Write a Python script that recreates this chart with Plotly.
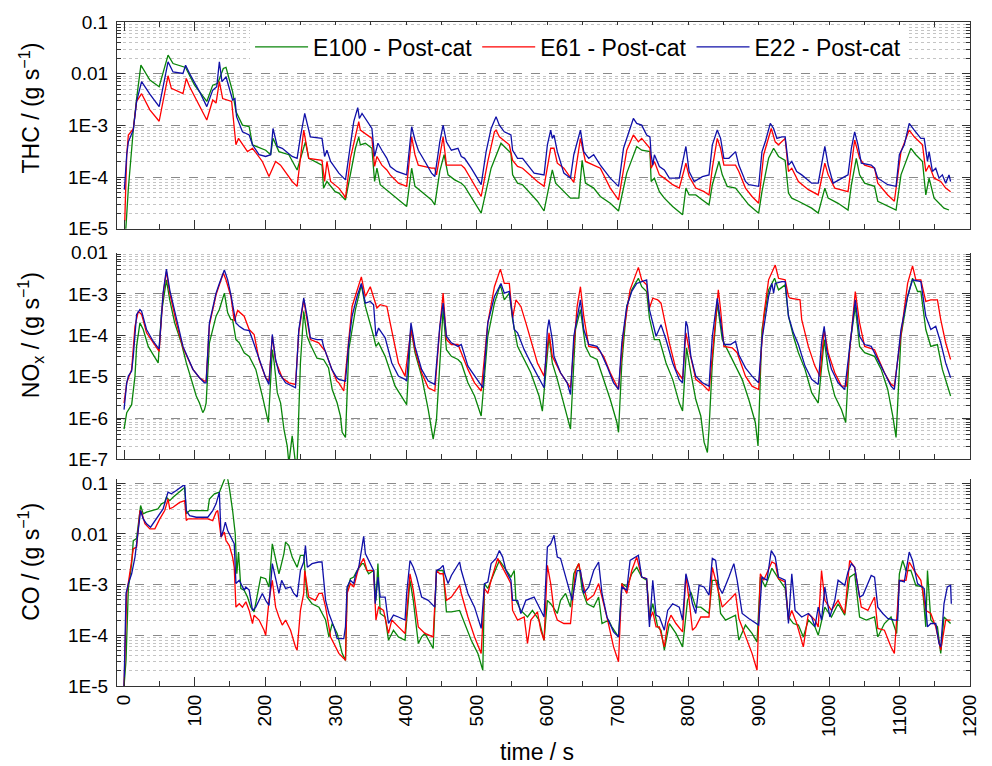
import plotly.graph_objects as go

SERIES = ["E100 - Post-cat", "E61 - Post-cat", "E22 - Post-cat"]
COLORS = ["#0a850a", "#ff0000", "#1010a8"]

# ---------------- THC (g/s) : (time s, value) ----------------
THC_E100 = [(2.3,8.9e-6),(6.1,6.0e-5),(13.1,8.1e-4),(17.8,3.3e-3),(23.9,1.46e-2),(36.6,7.5e-3),(49.8,5.6e-3),(62.4,2.28e-2),(69.5,1.57e-2),(83.6,1.36e-2),(87.3,1.32e-2),(100.0,6.0e-3),(117.4,2.9e-3),(125.8,6.0e-3),(132.9,6.5e-3),(140.8,1.26e-2),(144.6,1.32e-2),(154.0,4.5e-3),(158.7,1.85e-3),(168.0,1.01e-3),(177.5,9.4e-4),(182.2,4.2e-4),(200.9,3.3e-4),(208.0,2.7e-4),(211.3,5.6e-4),(219.7,3.1e-4),(233.8,2.7e-4),(245.5,1.37e-4),(257.3,4.8e-4),(262.0,2.3e-4),(280.8,1.7e-4),(283.0,6.1e-5),(287.8,8.2e-5),(299.5,5.2e-5),(304.7,4.9e-5),(314.1,3.6e-5),(321.1,1.1e-4),(328.2,3.6e-4),(332.9,6.0e-4),(335.2,4.2e-4),(342.3,4.5e-4),(351.6,3.6e-4),(355.4,8.2e-5),(358.7,1.48e-4),(363.4,7.1e-5),(375.1,5.2e-5),(389.2,3.6e-5),(400.9,2.7e-5),(408.0,1.48e-4),(412.7,6.6e-5),(422.1,5.2e-5),(436.2,3.6e-5),(440.8,2.9e-5),(447.9,1.3e-4),(454.0,2.7e-4),(459.6,1.1e-4),(469.0,8.8e-5),(478.4,7.6e-5),(483.1,6.6e-5),(506.6,2.0e-5),(520.7,1.48e-4),(534.7,4.5e-4),(541.8,3.6e-4),(548.8,2.9e-4),(551.2,1.1e-4),(558.2,7.6e-5),(565.3,7.1e-5),(586.4,3.4e-5),(595.8,2.2e-5),(607.5,1.37e-4),(612.2,7.6e-5),(623.9,5.2e-5),(633.3,3.9e-5),(645.1,3.9e-5),(649.8,2.1e-4),(654.5,7.6e-5),(666.2,6.1e-5),(675.6,4.2e-5),(689.7,3.1e-5),(701.4,2.2e-5),(713.1,1.19e-4),(727.2,3.9e-4),(734.3,3.3e-4),(746.0,3.1e-4),(747.7,8.2e-5),(752.3,9.5e-5),(759.4,5.2e-5),(766.4,3.9e-5),(778.2,2.7e-5),(792.3,1.86e-5),(797.0,6.1e-5),(801.6,4.5e-5),(811.0,4.5e-5),(820.4,3.6e-5),(829.8,2.9e-5),(834.5,7.1e-5),(843.9,2.0e-4),(848.6,1.1e-4),(855.6,6.6e-5),(867.4,6.1e-5),(876.8,4.2e-5),(886.2,2.9e-5),(900.2,2.0e-5),(904.9,5.2e-5),(914.3,2.3e-4),(921.4,3.6e-4),(928.4,2.5e-4),(937.8,2.1e-4),(942.5,4.9e-5),(947.2,3.9e-5),(956.6,3.4e-5),(966.0,2.9e-5),(975.4,2.5e-5),(984.7,2.0e-5),(994.1,6.1e-5),(998.8,3.9e-5),(1012.9,3.1e-5),(1027.0,2.3e-5),(1031.7,7.0e-5),(1038.7,2.3e-4),(1043.4,1.1e-4),(1050.5,7.6e-5),(1064.6,6.6e-5),(1069.2,3.4e-5),(1083.3,2.7e-5),(1095.1,2.3e-5),(1102.1,1.1e-4),(1116.2,3.6e-4),(1123.2,2.7e-4),(1132.6,2.0e-4),(1137.3,4.5e-5),(1142.0,9.5e-5),(1149.1,3.9e-5),(1156.1,3.1e-5),(1163.1,2.5e-5),(1170.2,2.3e-5)]

THC_E61 = [(1.0,1.4e-5),(3.8,2.7e-4),(6.1,6.5e-4),(13.1,8.5e-4),(17.8,2.9e-3),(24.9,4.1e-3),(36.6,2.0e-3),(49.8,1.2e-3),(62.4,9.1e-3),(67.1,5.2e-3),(83.6,4.1e-3),(88.3,8.1e-3),(93.0,5.6e-3),(107.0,2.3e-3),(117.4,1.27e-3),(125.8,3.1e-3),(130.5,2.7e-3),(135.2,7.0e-3),(139.9,3.3e-3),(152.6,2.9e-3),(158.7,4.2e-4),(162.4,5.6e-4),(175.1,3.1e-4),(182.2,3.6e-4),(196.2,2.0e-4),(205.6,1.02e-4),(211.3,1.6e-4),(215.0,2.0e-4),(222.0,1.7e-4),(238.5,8.2e-5),(245.5,6.6e-5),(254.9,8.1e-4),(262.0,2.3e-4),(280.8,2.1e-4),(284.5,8.2e-5),(287.8,2.0e-4),(293.0,8.2e-5),(304.7,6.1e-5),(311.7,4.5e-5),(314.1,3.9e-5),(321.1,2.3e-4),(328.2,6.5e-4),(332.9,1.18e-3),(335.2,8.1e-4),(342.3,7.0e-4),(349.3,6.0e-4),(351.6,5.6e-4),(355.4,1.6e-4),(358.7,2.5e-4),(365.7,1.7e-4),(372.8,1.37e-4),(377.5,1.1e-4),(389.2,7.6e-5),(400.9,6.6e-5),(405.6,3.6e-4),(408.0,6.0e-4),(412.7,2.7e-4),(417.4,1.7e-4),(436.2,1.48e-4),(440.8,1.48e-4),(443.2,1.1e-4),(452.6,6.0e-4),(457.3,1.7e-4),(464.3,1.7e-4),(478.4,1.7e-4),(483.1,1.48e-4),(506.6,4.2e-5),(516.0,2.0e-4),(525.4,7.5e-4),(527.7,8.1e-4),(532.4,6.0e-4),(546.5,4.2e-4),(551.2,2.1e-4),(558.2,1.6e-4),(565.3,1.48e-4),(586.4,8.2e-5),(595.8,6.6e-5),(605.2,3.6e-4),(609.9,3.6e-4),(614.6,1.85e-4),(623.9,1.48e-4),(638.0,7.9e-5),(647.4,5.6e-4),(654.5,2.0e-4),(666.2,1.7e-4),(675.6,1.48e-4),(689.7,6.1e-5),(701.4,3.6e-5),(713.1,3.3e-4),(722.5,6.5e-4),(729.6,4.8e-4),(734.3,5.6e-4),(746.0,3.6e-4),(747.7,1.48e-4),(752.3,2.0e-4),(759.4,1.1e-4),(768.8,9.0e-5),(778.2,7.1e-5),(787.6,6.1e-5),(797.0,1.85e-4),(801.6,1.02e-4),(811.0,6.1e-5),(822.8,5.2e-5),(829.8,4.5e-5),(834.5,1.5e-4),(841.5,5.6e-4),(846.2,3.6e-4),(850.9,1.7e-4),(867.4,1.7e-4),(872.1,1.28e-4),(881.5,6.1e-5),(890.8,4.2e-5),(900.2,3.1e-5),(907.3,2.7e-4),(918.1,8.7e-4),(923.7,4.8e-4),(928.4,4.2e-4),(937.8,5.6e-4),(942.5,1.28e-4),(947.2,1.48e-4),(956.6,8.2e-5),(970.7,5.7e-5),(984.7,4.5e-5),(994.1,1.85e-4),(998.8,1.1e-4),(1008.2,6.1e-5),(1027.0,5.2e-5),(1036.4,5.2e-4),(1043.4,2.3e-4),(1050.5,1.7e-4),(1064.6,1.48e-4),(1069.2,7.6e-5),(1083.3,4.5e-5),(1092.7,3.4e-5),(1102.1,3.1e-4),(1113.8,8.1e-4),(1120.9,6.0e-4),(1132.6,4.2e-4),(1137.3,1.28e-4),(1142.0,1.7e-4),(1149.1,9.5e-5),(1158.5,8.2e-5),(1165.5,6.1e-5),(1172.5,5.2e-5)]

THC_E22 = [(0.5,5.7e-5),(3.8,2.7e-4),(6.1,4.8e-4),(13.1,8.1e-4),(17.8,2.9e-3),(24.9,7.0e-3),(36.6,4.0e-3),(49.8,2.3e-3),(62.4,1.7e-2),(69.5,1.08e-2),(83.6,1.01e-2),(87.3,1.46e-2),(93.0,1.01e-2),(107.0,4.5e-3),(117.4,2.3e-3),(125.8,4.8e-3),(131.5,5.6e-3),(135.2,1.7e-2),(138.9,7.0e-3),(144.6,8.7e-3),(154.0,3.1e-3),(157.3,3.3e-3),(159.6,1.47e-3),(168.0,7.5e-4),(177.5,6.5e-4),(182.2,4.2e-4),(191.5,2.7e-4),(200.9,2.5e-4),(208.0,2.7e-4),(211.3,8.7e-4),(217.4,3.9e-4),(224.4,3.6e-4),(238.5,2.5e-4),(245.5,2.3e-4),(250.2,6.0e-4),(256.3,1.7e-3),(264.3,6.0e-4),(280.8,5.6e-4),(284.5,2.5e-4),(287.8,3.3e-4),(293.0,2.0e-4),(304.7,1.19e-4),(314.1,8.8e-5),(321.1,4.8e-4),(325.8,1.18e-3),(331.5,2.2e-3),(333.8,1.36e-3),(337.6,1.7e-3),(346.9,1.09e-3),(351.6,8.7e-4),(355.4,2.5e-4),(360.1,4.5e-4),(365.7,3.3e-4),(372.8,2.3e-4),(377.5,1.6e-4),(386.9,1.28e-4),(400.9,1.1e-4),(405.6,4.8e-4),(408.0,9.4e-4),(412.7,5.2e-4),(417.4,3.3e-4),(426.8,2.0e-4),(436.2,1.19e-4),(440.8,1.02e-4),(447.9,4.8e-4),(452.6,1.01e-3),(457.3,4.8e-4),(464.3,3.3e-4),(473.7,3.6e-4),(478.4,2.5e-4),(483.1,2.3e-4),(492.5,1.48e-4),(506.6,7.1e-5),(513.6,3.1e-4),(520.7,8.7e-4),(527.7,1.47e-3),(532.4,1.01e-3),(539.4,7.5e-4),(548.8,6.5e-4),(551.2,3.3e-4),(558.2,2.3e-4),(565.3,2.3e-4),(572.3,1.7e-4),(581.7,1.19e-4),(595.8,1.1e-4),(600.5,4.2e-4),(605.2,8.1e-4),(607.5,5.6e-4),(609.9,6.5e-4),(614.6,3.1e-4),(623.9,1.19e-4),(633.3,9.5e-5),(638.0,2.7e-4),(647.4,8.1e-4),(652.1,3.1e-4),(659.2,2.3e-4),(666.2,2.7e-4),(675.6,1.7e-4),(689.7,9.5e-5),(701.4,6.6e-5),(708.5,3.6e-4),(713.1,5.6e-4),(722.5,1.36e-3),(727.2,1.09e-3),(734.3,1.01e-3),(741.3,6.5e-4),(746.0,6.0e-4),(747.7,2.7e-4),(750.0,1.7e-4),(752.3,2.7e-4),(759.4,1.6e-4),(766.4,1.37e-4),(773.5,9.5e-5),(787.6,9.5e-5),(797.0,3.9e-4),(801.6,1.28e-4),(808.7,8.2e-5),(820.4,1.02e-4),(829.8,1.1e-4),(834.5,4.2e-4),(841.5,8.1e-4),(846.2,5.6e-4),(850.9,2.3e-4),(858.0,2.3e-4),(867.4,3.1e-4),(872.1,1.7e-4),(881.5,8.2e-5),(886.2,7.1e-5),(900.2,6.6e-5),(904.9,3.1e-4),(909.6,4.8e-4),(916.7,1.09e-3),(921.4,8.7e-4),(926.1,5.6e-4),(933.1,6.0e-4),(937.8,6.0e-4),(942.5,1.7e-4),(947.2,2.0e-4),(954.2,1.28e-4),(961.3,1.1e-4),(975.4,7.6e-5),(984.7,7.6e-5),(994.1,3.9e-4),(998.8,1.7e-4),(1005.9,7.6e-5),(1022.3,1.02e-4),(1027.0,1.1e-4),(1031.7,3.6e-4),(1036.4,7.5e-4),(1041.1,4.2e-4),(1045.8,1.85e-4),(1059.9,1.7e-4),(1064.6,1.48e-4),(1069.2,9.5e-5),(1083.3,7.1e-5),(1095.1,6.6e-5),(1099.8,2.7e-4),(1106.8,4.2e-4),(1113.8,1.09e-3),(1120.9,8.1e-4),(1130.3,5.6e-4),(1135.0,5.6e-4),(1139.7,2.0e-4),(1142.0,3.1e-4),(1146.7,1.28e-4),(1151.4,1.48e-4),(1156.1,9.5e-5),(1160.8,1.1e-4),(1165.5,7.6e-5),(1170.2,1.1e-4),(1172.5,8.2e-5)]

# ---------------- NOx (g/s) ----------------
NOX_E100 = [(0.0,5.4e-7),(3.8,1.35e-6),(10.8,2.1e-6),(15.5,1.03e-5),(17.8,5.4e-5),(22.5,2.0e-4),(27.2,1.38e-4),(34.3,5.4e-5),(41.3,3.4e-5),(48.4,2.15e-5),(53.1,3.5e-4),(60.1,2.2e-3),(64.8,7.2e-4),(71.8,2.0e-4),(81.2,6.6e-5),(88.3,2.15e-5),(95.4,8.6e-6),(102.4,3.4e-6),(107.0,2.3e-6),(111.7,1.35e-6),(114.1,1.6e-6),(116.4,2.3e-6),(121.1,6.6e-5),(130.5,2.9e-4),(135.2,4.2e-4),(142.3,1.05e-3),(147.0,3.5e-4),(151.6,2.4e-4),(154.0,2.4e-4),(158.7,7.9e-5),(163.4,6.6e-5),(170.4,3.8e-5),(177.5,3.1e-5),(186.9,1.5e-5),(196.2,3.4e-6),(200.9,1.47e-6),(204.7,7.8e-7),(210.3,4.5e-5),(213.0,2.15e-5),(217.4,4.1e-6),(222.1,2.3e-6),(226.8,5.4e-7),(231.5,2.1e-7),(233.8,8.0e-8),(238.5,3.7e-7),(243.2,8.0e-8),(245.5,8.0e-8),(250.2,2.15e-5),(254.9,3.8e-4),(259.6,9.5e-5),(264.3,6.0e-5),(273.7,2.8e-5),(283.0,2.6e-5),(290.1,1.63e-5),(295.3,4.9e-6),(302.3,2.3e-6),(306.9,1.12e-6),(309.4,4.5e-7),(314.1,3.4e-7),(318.8,4.5e-5),(328.2,4.2e-4),(336.6,1.66e-3),(342.3,5.0e-4),(354.0,9.5e-5),(357.3,5.4e-5),(361.0,6.6e-5),(370.4,3.1e-5),(384.5,5.9e-6),(400.9,2.1e-6),(407.0,1.5e-4),(412.7,3.8e-5),(422.1,1.03e-5),(431.5,1.6e-6),(438.5,3.1e-7),(443.2,9.3e-7),(452.6,4.2e-4),(457.3,4.5e-5),(464.3,3.1e-5),(473.7,2.6e-5),(478.4,2.15e-5),(487.8,7.1e-6),(497.2,3.4e-6),(501.9,2.0e-6),(506.6,1.12e-6),(516.0,9.5e-5),(525.4,6.0e-4),(533.8,1.66e-3),(539.4,7.2e-4),(546.5,1.05e-3),(551.2,2.4e-4),(558.2,5.4e-5),(562.9,3.8e-5),(577.0,1.24e-5),(588.7,3.4e-6),(593.4,1.47e-6),(602.8,9.5e-5),(607.5,2.15e-5),(614.6,8.6e-6),(623.9,2.0e-6),(633.3,5.4e-7),(640.4,1.38e-4),(647.4,4.2e-4),(654.5,5.4e-5),(661.5,3.1e-5),(670.9,2.6e-5),(680.3,8.6e-6),(689.7,2.8e-6),(699.1,7.8e-7),(701.4,4.5e-7),(706.1,2.15e-5),(713.1,5.0e-4),(720.2,1.26e-3),(729.6,2.4e-3),(734.3,1.5e-3),(741.3,1.15e-3),(745.3,2.6e-4),(752.3,7.9e-5),(759.4,7.9e-5),(768.8,2.15e-5),(778.2,8.6e-6),(787.6,2.3e-6),(792.3,1.47e-6),(797.9,5.0e-5),(804.0,1.24e-5),(811.0,2.8e-6),(818.1,1.12e-6),(822.8,2.6e-7),(827.5,1.46e-7),(829.8,5.4e-7),(834.5,2.15e-5),(841.5,6.0e-4),(848.6,7.9e-5),(855.6,4.5e-5),(862.7,2.6e-5),(876.8,8.6e-6),(886.2,2.8e-6),(895.5,7.8e-7),(899.3,2.1e-7),(904.9,1.38e-4),(914.3,1.26e-3),(922.8,2.4e-3),(928.4,1.26e-3),(937.8,1.66e-3),(942.5,2.9e-4),(949.5,9.5e-5),(956.6,3.8e-5),(966.0,1.5e-5),(975.4,4.1e-6),(984.7,2.3e-6),(993.2,7.9e-5),(998.8,1.5e-5),(1008.2,3.4e-6),(1017.6,1.6e-6),(1023.7,7.8e-7),(1029.3,5.4e-5),(1037.3,5.0e-4),(1043.4,5.4e-5),(1050.5,3.8e-5),(1064.6,3.1e-5),(1074.0,1.5e-5),(1083.3,4.9e-6),(1090.4,1.12e-6),(1095.1,3.4e-7),(1102.1,9.5e-5),(1111.5,8.7e-4),(1118.5,2.4e-3),(1125.6,1.15e-3),(1130.3,1.15e-3),(1137.3,1.38e-4),(1144.4,5.4e-5),(1153.8,6.0e-5),(1160.8,1.5e-5),(1167.8,5.9e-6),(1172.5,3.4e-6)]

NOX_E61 = [(0.0,2.3e-6),(3.8,7.1e-6),(10.8,1.5e-5),(15.5,1.66e-4),(20.2,3.8e-4),(24.9,3.2e-4),(31.9,1.15e-4),(41.3,6.6e-5),(49.8,4.1e-5),(55.4,1.0e-3),(60.1,3.5e-3),(64.8,1.05e-3),(74.2,2.0e-4),(83.6,5.0e-5),(97.7,1.5e-5),(107.0,9.4e-6),(114.1,7.8e-6),(116.4,7.8e-6),(121.1,1.8e-4),(130.5,9.5e-4),(140.8,3.2e-3),(144.6,2.2e-3),(151.6,8.7e-4),(156.3,2.2e-4),(161.1,4.0e-4),(170.4,2.9e-4),(177.5,1.38e-4),(184.5,1.05e-4),(191.5,2.6e-5),(200.9,9.4e-6),(205.6,7.8e-6),(210.3,9.5e-5),(215.0,2.4e-5),(224.4,9.4e-6),(233.8,7.1e-6),(243.2,6.5e-6),(247.9,1.2e-4),(254.9,7.2e-4),(259.6,2.6e-4),(264.3,7.9e-5),(276.1,6.6e-5),(285.5,4.1e-5),(294.8,1.5e-5),(301.9,7.8e-6),(304.7,7.1e-6),(311.7,4.5e-6),(318.8,7.9e-5),(323.5,5.0e-4),(336.6,2.6e-3),(342.3,8.7e-4),(349.3,1.5e-3),(354.0,8.7e-4),(358.7,4.6e-4),(363.4,5.5e-4),(372.8,5.0e-4),(377.5,2.0e-4),(389.2,2.15e-5),(398.6,1.03e-5),(407.0,1.38e-4),(412.7,4.5e-5),(422.1,1.24e-5),(431.5,5.4e-6),(440.8,4.5e-6),(447.9,1.5e-4),(452.6,1.05e-3),(457.3,7.9e-5),(464.3,6.0e-5),(473.7,6.0e-5),(478.4,3.8e-5),(487.8,1.5e-5),(497.2,7.1e-6),(506.6,4.5e-6),(516.0,2.0e-4),(525.4,1.5e-3),(533.8,4.0e-3),(539.4,1.8e-3),(546.5,1.8e-3),(551.2,2.6e-4),(555.9,7.2e-4),(562.9,5.0e-4),(570.0,2.0e-4),(586.4,2.15e-5),(595.8,1.03e-5),(602.8,1.15e-4),(607.5,3.1e-5),(619.2,1.24e-5),(628.6,7.1e-6),(633.3,5.4e-6),(642.7,5.0e-4),(647.4,1.5e-3),(652.1,2.9e-4),(659.2,5.4e-5),(670.9,5.0e-5),(680.3,3.1e-5),(689.7,1.24e-5),(701.4,4.9e-6),(708.5,1.15e-4),(717.8,1.26e-3),(729.6,4.4e-3),(734.3,2.2e-3),(741.3,1.66e-3),(745.3,4.6e-4),(750.0,7.9e-4),(757.0,7.2e-4),(761.7,6.0e-4),(766.4,2.4e-4),(773.5,6.6e-5),(782.9,1.5e-5),(792.3,8.6e-6),(797.0,1.15e-4),(801.6,4.5e-5),(811.0,8.6e-6),(820.4,6.5e-6),(829.8,4.5e-6),(843.0,1.26e-3),(846.2,4.2e-4),(850.9,5.4e-5),(862.7,5.0e-5),(869.7,3.8e-5),(881.5,1.03e-5),(890.8,5.9e-6),(900.2,4.9e-6),(907.3,2.9e-4),(914.3,2.2e-3),(923.7,5.0e-3),(928.4,2.4e-3),(937.8,2.2e-3),(942.5,8.7e-4),(944.8,7.9e-4),(958.9,7.2e-4),(961.3,2.4e-4),(970.7,5.4e-5),(980.0,1.8e-5),(987.1,1.03e-5),(993.2,1.38e-4),(998.8,3.8e-5),(1008.2,1.24e-5),(1017.6,5.9e-6),(1024.6,5.9e-6),(1037.3,1.15e-3),(1043.4,2.0e-4),(1050.5,5.4e-5),(1064.6,4.5e-5),(1078.6,1.24e-5),(1088.0,6.5e-6),(1092.7,5.9e-6),(1102.1,9.5e-5),(1111.5,1.8e-3),(1118.5,4.8e-3),(1123.2,2.2e-3),(1130.3,2.2e-3),(1137.3,6.6e-4),(1144.4,7.2e-4),(1153.8,7.2e-4),(1158.5,2.4e-4),(1165.5,6.6e-5),(1172.5,2.6e-5)]

NOX_E22 = [(0.0,1.6e-6),(3.8,7.1e-6),(6.1,1.03e-5),(10.8,1.36e-5),(13.1,3.1e-5),(15.5,1.38e-4),(17.8,3.2e-4),(22.5,4.2e-4),(24.9,3.8e-4),(31.9,1.38e-4),(41.3,7.2e-5),(48.4,5.0e-5),(49.8,4.7e-5),(55.4,1.05e-3),(60.1,4.0e-3),(64.8,1.26e-3),(74.2,2.4e-4),(83.6,5.4e-5),(97.7,1.5e-5),(107.0,9.4e-6),(114.1,7.1e-6),(116.4,7.1e-6),(121.1,2.0e-4),(130.5,1.05e-3),(135.2,1.8e-3),(142.3,3.8e-3),(147.0,2.2e-3),(151.6,9.5e-4),(158.7,2.0e-4),(163.4,1.66e-4),(170.4,1.38e-4),(177.5,1.3e-4),(182.2,7.9e-5),(191.5,2.6e-5),(200.9,9.4e-6),(205.6,6.5e-6),(210.3,1.05e-4),(215.0,2.6e-5),(219.7,1.24e-5),(229.1,7.1e-6),(238.5,5.9e-6),(243.2,5.4e-6),(247.9,1.38e-4),(254.9,7.9e-4),(259.6,2.9e-4),(264.3,8.7e-5),(273.7,7.9e-5),(280.8,7.9e-5),(283.0,5.4e-5),(294.8,1.5e-5),(301.9,9.4e-6),(304.7,8.6e-6),(314.1,7.8e-6),(318.8,6.6e-5),(323.5,2.9e-4),(330.5,8.7e-4),(336.6,1.8e-3),(342.3,6.0e-4),(349.3,6.6e-4),(354.0,5.5e-4),(357.3,9.5e-5),(361.0,1.5e-4),(370.4,8.7e-5),(379.8,2.15e-5),(389.2,1.03e-5),(398.6,8.6e-6),(400.9,7.8e-6),(407.0,2.0e-4),(412.7,5.4e-5),(422.1,1.5e-5),(431.5,7.8e-6),(440.8,6.5e-6),(447.9,1.66e-4),(452.6,6.0e-4),(457.3,9.5e-5),(464.3,6.6e-5),(473.7,5.4e-5),(478.4,6.0e-5),(487.8,1.8e-5),(497.2,1.03e-5),(506.6,5.9e-6),(508.9,5.4e-6),(516.0,2.0e-4),(525.4,8.7e-4),(534.7,1.8e-3),(539.4,1.05e-3),(546.5,1.15e-3),(551.2,2.9e-4),(553.5,1.38e-4),(558.2,1.15e-4),(567.6,4.5e-5),(577.0,2.15e-5),(586.4,1.03e-5),(595.8,5.4e-6),(600.5,1.38e-4),(602.8,2.4e-4),(607.5,7.9e-5),(609.9,3.1e-5),(619.2,1.24e-5),(628.6,7.1e-6),(633.3,3.7e-6),(638.0,9.5e-5),(647.4,7.2e-4),(652.1,1.38e-4),(659.2,6.0e-5),(670.9,5.4e-5),(675.6,4.1e-5),(685.0,1.8e-5),(694.4,7.1e-6),(701.4,4.9e-6),(706.1,6.6e-5),(713.1,5.0e-4),(720.2,1.15e-3),(727.2,1.8e-3),(741.3,2.2e-3),(745.3,4.2e-4),(750.0,2.0e-4),(754.7,9.5e-5),(761.7,1.8e-4),(768.8,7.9e-5),(778.2,2.15e-5),(787.6,8.6e-6),(792.3,7.1e-6),(797.0,2.2e-4),(799.3,1.66e-4),(804.0,3.1e-5),(811.0,1.03e-5),(820.4,7.1e-6),(829.8,5.9e-6),(834.5,9.5e-5),(841.5,7.9e-4),(846.2,2.4e-4),(850.9,6.0e-5),(860.3,6.0e-5),(867.4,7.2e-5),(872.1,3.4e-5),(881.5,1.63e-5),(890.8,1.03e-5),(900.2,7.1e-6),(904.9,7.9e-5),(914.3,8.7e-4),(919.0,1.8e-3),(921.4,1.05e-3),(923.7,1.8e-3),(933.1,2.0e-3),(937.8,2.0e-3),(942.5,2.9e-4),(949.5,1.15e-4),(956.6,6.0e-5),(966.0,1.8e-5),(975.4,8.6e-6),(984.7,6.5e-6),(989.4,6.6e-5),(993.2,1.66e-4),(996.5,4.5e-5),(1003.5,1.5e-5),(1012.9,7.1e-6),(1022.3,4.9e-6),(1031.7,1.38e-4),(1037.3,7.2e-4),(1043.4,9.5e-5),(1050.5,6.0e-5),(1059.9,5.4e-5),(1064.6,3.8e-5),(1069.2,2.6e-5),(1078.6,1.24e-5),(1088.0,5.9e-6),(1092.7,4.9e-6),(1102.1,1.38e-4),(1111.5,8.7e-4),(1118.5,2.2e-3),(1130.3,2.0e-3),(1137.3,2.9e-4),(1144.4,1.38e-4),(1151.4,1.66e-4),(1158.5,6.6e-5),(1165.5,2.15e-5),(1172.5,9.4e-6)]

# ---------------- CO (g/s) ----------------
CO_E100 = [(0.0,1.0e-5),(2.8,3.2e-5),(6.1,8.4e-4),(10.8,2.6e-3),(13.1,7.4e-3),(17.8,8.1e-3),(23.5,3.64e-2),(27.2,2.5e-2),(31.9,2.69e-2),(38.5,2.9e-2),(48.0,3.13e-2),(53.1,3.93e-2),(57.7,4.23e-2),(60.1,5.3e-2),(64.8,4.56e-2),(69.5,5.3e-2),(78.9,6.7e-2),(86.0,8.3e-2),(88.3,2.5e-2),(93.0,2.9e-2),(107.0,2.9e-2),(118.8,2.9e-2),(121.1,4.9e-2),(128.2,6.2e-2),(135.2,6.7e-2),(139.9,9.7e-2),(144.6,1.41e-1),(147.0,1.22e-1),(149.3,8.3e-2),(154.0,2.9e-2),(157.7,1.01e-2),(160.0,1.64e-3),(162.4,4.4e-3),(165.7,8.4e-4),(170.4,7.8e-4),(175.1,5.7e-4),(179.8,3.6e-4),(184.5,2.9e-4),(189.2,6.7e-4),(193.9,1.41e-3),(200.9,1.31e-3),(205.6,9.0e-4),(210.3,6.4e-3),(215.0,3.0e-3),(219.7,1.64e-3),(222.1,2.2e-3),(226.8,4.1e-3),(229.1,6.9e-3),(233.8,5.9e-3),(238.5,3.5e-3),(245.5,2.2e-3),(250.2,3.8e-3),(254.9,3.8e-3),(259.6,5.7e-4),(266.7,4.2e-4),(276.5,3.6e-4),(285.9,2.0e-4),(290.6,9.3e-5),(295.3,1.71e-4),(302.3,1.09e-4),(309.4,4.4e-5),(314.1,3.2e-5),(316.4,7.8e-4),(321.1,1.31e-3),(325.8,1.41e-3),(330.5,1.9e-3),(337.6,2.6e-3),(339.9,2.6e-3),(346.9,1.64e-3),(354.0,1.9e-3),(357.3,4.9e-4),(360.1,2.6e-3),(363.4,2.7e-4),(370.4,2.3e-4),(375.1,8.0e-5),(382.2,1.26e-4),(389.2,9.3e-5),(398.6,8.0e-5),(405.6,1.22e-3),(410.3,4.9e-4),(417.4,6.9e-5),(422.1,9.3e-5),(426.8,1.09e-4),(438.5,5.5e-5),(443.2,1.9e-3),(447.9,1.9e-3),(452.6,1.9e-3),(457.3,2.9e-4),(464.3,2.9e-4),(476.0,3.1e-4),(483.1,1.71e-4),(492.5,8.0e-5),(501.9,4.4e-5),(508.9,2.05e-5),(511.3,1.05e-3),(516.0,8.4e-4),(520.7,1.22e-3),(532.4,3.0e-3),(539.4,2.2e-3),(548.8,1.41e-3),(553.5,1.9e-3),(555.9,4.9e-4),(562.9,3.1e-4),(572.3,2.3e-4),(579.3,3.1e-4),(588.7,2.0e-4),(595.8,8.0e-5),(600.5,4.9e-4),(605.2,4.2e-4),(614.6,2.7e-4),(619.2,4.9e-4),(626.3,6.7e-4),(633.3,3.6e-4),(638.0,1.64e-3),(645.1,2.6e-3),(649.8,7.8e-4),(656.8,4.2e-4),(666.2,3.6e-4),(673.2,5.7e-4),(678.0,1.71e-4),(687.3,2.0e-4),(692.0,1.47e-4),(701.4,9.3e-5),(706.1,1.05e-3),(713.1,9.0e-4),(720.2,1.64e-3),(727.2,2.2e-3),(734.3,1.41e-3),(741.3,1.22e-3),(745.3,2.3e-4),(750.0,4.2e-4),(757.0,1.47e-4),(761.7,1.26e-4),(766.4,5.1e-5),(773.5,1.71e-4),(782.9,1.09e-4),(792.3,5.9e-5),(799.3,4.9e-4),(804.0,7.2e-4),(811.0,3.6e-4),(818.1,3.6e-4),(829.8,2.7e-4),(834.5,1.22e-3),(841.5,1.22e-3),(846.2,2.7e-4),(853.3,2.0e-4),(867.4,2.5e-4),(872.1,8.0e-5),(881.5,1.59e-4),(890.8,1.09e-4),(897.9,7.4e-5),(902.6,1.41e-3),(909.6,9.0e-4),(919.0,2.1e-3),(928.4,1.31e-3),(937.8,8.4e-4),(942.5,2.3e-4),(949.5,1.71e-4),(956.6,1.59e-4),(963.6,9.3e-5),(970.7,2.0e-4),(980.0,1.47e-4),(984.7,1.0e-4),(994.1,3.6e-4),(1003.5,2.3e-4),(1012.9,4.2e-4),(1022.3,2.5e-4),(1029.3,1.41e-3),(1036.4,1.64e-3),(1043.4,2.3e-4),(1052.8,2.0e-4),(1064.6,2.3e-4),(1069.2,9.3e-5),(1078.6,1.71e-4),(1088.0,2.3e-4),(1096.0,1.09e-4),(1099.8,1.64e-3),(1104.5,3.0e-3),(1109.2,1.9e-3),(1116.2,1.9e-3),(1123.2,9.7e-4),(1132.6,9.0e-4),(1137.3,1.47e-4),(1139.7,1.9e-3),(1144.4,2.0e-4),(1153.8,1.47e-4),(1158.5,4.4e-5),(1163.1,2.3e-4),(1172.5,1.71e-4)]

CO_E61 = [(0.0,1.0e-5),(3.8,6.7e-4),(10.8,3.0e-3),(13.1,5.1e-3),(17.8,5.5e-3),(22.5,2.9e-2),(24.9,2.69e-2),(29.6,1.59e-2),(36.6,1.26e-2),(43.7,1.26e-2),(50.7,1.99e-2),(57.7,2.9e-2),(62.4,4.9e-2),(64.8,3.13e-2),(69.5,3.37e-2),(78.9,4.2e-2),(86.0,4.56e-2),(88.3,1.84e-2),(90.6,1.99e-2),(102.4,1.99e-2),(118.8,1.99e-2),(125.8,1.84e-2),(130.5,2.69e-2),(132.9,2.9e-2),(135.2,1.47e-2),(137.6,8.7e-3),(142.3,1.09e-2),(144.6,7.4e-3),(149.3,5.9e-3),(154.0,3.5e-3),(156.3,2.2e-3),(158.7,3.6e-4),(163.4,4.2e-4),(168.0,3.6e-4),(172.8,4.6e-4),(177.5,3.1e-4),(182.2,1.71e-4),(184.5,2.5e-4),(191.5,2.0e-4),(198.6,1.26e-4),(200.9,1.0e-4),(205.6,4.9e-4),(210.3,1.22e-3),(215.0,3.6e-4),(219.7,2.3e-4),(224.4,1.59e-4),(229.1,2.0e-4),(236.2,1.26e-4),(243.2,5.9e-5),(245.5,5.1e-5),(250.2,3.1e-4),(254.9,6.7e-4),(256.3,1.9e-3),(262.0,5.7e-4),(271.4,4.9e-4),(276.5,6.7e-4),(281.2,6.7e-4),(285.9,3.6e-4),(293.0,9.3e-5),(304.7,4.4e-5),(311.7,3.5e-5),(314.1,3.2e-5),(316.4,6.7e-4),(321.1,1.05e-3),(325.8,9.0e-4),(332.9,2.2e-3),(339.9,3.3e-3),(344.6,1.9e-3),(354.0,1.9e-3),(357.3,2.0e-4),(361.0,3.6e-4),(368.1,3.1e-4),(375.1,1.09e-4),(379.8,2.0e-4),(389.2,1.47e-4),(398.6,1.09e-4),(405.6,1.64e-3),(410.3,7.8e-4),(417.4,1.47e-4),(426.8,1.09e-4),(438.5,9.3e-5),(443.2,1.9e-3),(447.9,1.64e-3),(452.6,1.64e-3),(457.3,4.9e-4),(464.3,5.7e-4),(476.0,9.7e-4),(478.4,6.7e-4),(487.8,2.3e-4),(497.2,9.3e-5),(506.6,4.4e-5),(511.3,8.4e-4),(516.0,6.7e-4),(520.7,1.22e-3),(530.0,3.3e-3),(537.1,2.2e-3),(544.1,1.41e-3),(548.8,1.05e-3),(551.2,3.1e-4),(558.2,2.0e-4),(567.6,2.3e-4),(572.3,6.9e-5),(577.0,2.0e-4),(586.4,2.9e-4),(591.1,1.26e-4),(595.8,8.0e-5),(600.5,2.4e-3),(605.2,1.05e-3),(609.9,3.1e-4),(614.6,2.0e-4),(623.9,1.71e-4),(633.3,1.71e-4),(640.4,1.9e-3),(645.1,2.6e-3),(649.8,1.22e-3),(656.8,4.9e-4),(666.2,6.2e-4),(673.2,1.05e-3),(678.0,5.7e-4),(685.0,2.3e-4),(694.4,5.9e-5),(701.4,3.0e-5),(706.1,1.05e-3),(713.1,6.7e-4),(720.2,1.9e-3),(727.2,3.5e-3),(734.3,1.41e-3),(741.3,1.31e-3),(745.3,2.0e-4),(750.0,2.9e-4),(754.7,1.47e-4),(759.4,1.47e-4),(766.4,5.9e-5),(771.1,1.71e-4),(775.8,2.5e-4),(782.9,1.71e-4),(792.3,1.17e-4),(797.0,1.52e-3),(801.6,4.9e-4),(806.3,1.26e-4),(811.0,1.47e-4),(818.1,2.3e-4),(829.8,2.3e-4),(834.5,2.2e-3),(839.2,1.22e-3),(848.6,3.6e-4),(858.0,4.9e-4),(867.4,6.7e-4),(872.1,2.15e-4),(881.5,9.3e-5),(890.8,4.4e-5),(897.9,2.05e-5),(902.6,1.64e-3),(907.3,1.22e-3),(919.0,2.8e-3),(923.7,2.6e-3),(928.4,1.31e-3),(937.8,1.13e-3),(942.5,2.0e-4),(947.2,3.1e-4),(954.2,1.71e-4),(963.6,5.9e-5),(970.7,2.7e-4),(980.0,2.0e-4),(984.7,1.47e-4),(989.4,1.9e-3),(994.1,4.9e-4),(1003.5,3.1e-4),(1012.9,4.9e-4),(1022.3,2.7e-4),(1029.3,3.0e-3),(1036.4,2.2e-3),(1045.8,3.6e-4),(1055.2,3.1e-4),(1064.6,5.7e-4),(1069.2,1.37e-4),(1078.6,1.26e-4),(1088.0,5.9e-5),(1092.7,4.4e-5),(1099.8,1.22e-3),(1109.2,1.22e-3),(1113.8,2.8e-3),(1120.9,1.9e-3),(1130.3,1.22e-3),(1137.3,3.1e-4),(1144.4,2.7e-4),(1151.4,1.47e-4),(1158.5,5.1e-5),(1165.5,2.0e-4),(1172.5,2.0e-4)]

CO_E22 = [(0.0,1.0e-5),(2.8,6.7e-4),(6.1,1.05e-3),(10.8,1.64e-3),(15.5,3.5e-3),(20.2,1.36e-2),(23.5,2.9e-2),(27.2,1.99e-2),(31.9,1.59e-2),(37.6,1.36e-2),(43.7,1.84e-2),(50.7,2.5e-2),(55.4,3.13e-2),(62.4,6.7e-2),(67.1,6.2e-2),(74.2,7.2e-2),(83.6,9.0e-2),(86.0,9.0e-2),(88.3,2.9e-2),(93.0,2.31e-2),(102.4,2.14e-2),(111.7,2.14e-2),(118.8,2.14e-2),(125.8,2.9e-2),(130.5,3.93e-2),(135.2,6.7e-2),(137.6,8.7e-3),(140.8,1.17e-2),(143.7,1.71e-2),(147.0,1.17e-2),(151.6,8.7e-3),(156.3,6.4e-3),(158.7,1.05e-3),(163.4,1.22e-3),(170.4,7.8e-4),(172.8,9.0e-4),(177.5,7.8e-4),(182.2,3.1e-4),(186.9,3.6e-4),(196.2,6.7e-4),(200.9,4.9e-4),(205.6,3.9e-4),(210.3,2.6e-3),(215.0,1.22e-3),(219.7,6.7e-4),(223.5,1.22e-3),(229.1,8.4e-4),(236.2,9.0e-4),(240.8,6.7e-4),(245.5,5.7e-4),(250.2,1.9e-3),(254.9,2.8e-3),(257.3,5.9e-3),(260.0,2.2e-3),(266.7,2.6e-3),(276.1,2.8e-3),(280.8,2.8e-3),(285.9,4.9e-4),(290.6,2.7e-4),(297.7,1.47e-4),(302.3,8.6e-5),(311.7,8.6e-5),(314.1,1.47e-4),(316.4,9.0e-4),(321.1,1.22e-3),(325.8,1.05e-3),(328.2,1.52e-3),(332.9,2.2e-3),(337.6,5.5e-3),(339.9,9.0e-3),(342.3,4.1e-3),(346.9,3.0e-3),(354.0,1.9e-3),(356.3,4.2e-4),(360.1,1.41e-3),(363.4,5.7e-4),(370.4,5.7e-4),(375.1,1.71e-4),(382.2,2.5e-4),(389.2,2.3e-4),(398.6,2.0e-4),(400.9,6.7e-4),(405.6,3.0e-3),(410.3,2.2e-3),(415.0,1.41e-3),(422.1,5.7e-4),(431.5,4.9e-4),(440.8,3.6e-4),(443.2,1.9e-3),(447.9,2.05e-3),(452.6,2.4e-3),(454.9,1.64e-3),(459.6,1.05e-3),(464.3,1.52e-3),(476.0,2.8e-3),(478.4,1.9e-3),(487.8,6.7e-4),(497.2,3.6e-4),(506.6,1.37e-4),(511.3,1.05e-3),(516.0,1.13e-3),(520.7,2.6e-3),(527.7,3.3e-3),(532.4,4.7e-3),(537.1,3.5e-3),(541.8,1.9e-3),(548.8,1.22e-3),(551.2,4.9e-4),(558.2,4.9e-4),(562.9,2.7e-4),(570.0,4.9e-4),(581.7,5.7e-4),(586.4,4.2e-4),(595.8,2.3e-4),(600.5,5.5e-3),(605.2,6.4e-3),(609.9,9.4e-3),(614.6,3.5e-3),(619.2,3.3e-3),(626.3,1.41e-3),(635.7,4.9e-4),(642.7,1.9e-3),(647.4,1.9e-3),(652.1,6.7e-4),(659.2,9.0e-4),(666.2,1.9e-3),(673.2,2.8e-3),(678.0,6.7e-4),(685.0,2.3e-4),(694.4,1.17e-4),(701.4,9.3e-5),(706.1,9.0e-4),(713.1,7.8e-4),(717.8,3.0e-3),(724.9,3.5e-3),(729.6,3.8e-3),(734.3,1.41e-3),(741.3,1.31e-3),(745.3,1.47e-4),(750.0,1.22e-3),(754.7,2.5e-4),(759.4,2.3e-4),(766.4,1.26e-4),(771.1,3.1e-4),(778.2,4.2e-4),(787.6,3.6e-4),(792.3,2.0e-4),(797.0,1.64e-3),(801.6,9.0e-4),(806.3,4.2e-4),(811.0,2.7e-4),(815.7,9.7e-4),(822.8,9.0e-4),(829.8,6.2e-4),(834.5,3.3e-3),(839.2,3.0e-3),(843.9,9.0e-4),(848.6,6.7e-4),(858.0,1.41e-3),(865.0,2.6e-3),(869.7,1.22e-3),(876.8,2.7e-4),(886.2,2.15e-4),(895.5,1.71e-4),(900.2,1.59e-4),(904.9,1.41e-3),(912.0,1.22e-3),(918.1,4.7e-3),(923.7,3.5e-3),(928.4,1.41e-3),(937.8,1.22e-3),(942.5,1.71e-4),(947.2,1.64e-3),(951.9,3.1e-4),(961.3,2.3e-4),(970.7,2.7e-4),(975.4,2.3e-4),(980.0,1.47e-4),(984.7,3.6e-4),(989.4,2.0e-4),(994.1,9.0e-4),(1001.2,2.3e-4),(1008.2,4.9e-4),(1012.9,1.22e-3),(1022.3,9.7e-4),(1027.0,1.8e-3),(1031.7,2.6e-3),(1036.4,2.2e-3),(1043.4,5.7e-4),(1048.1,6.2e-4),(1059.9,1.52e-3),(1064.6,1.41e-3),(1069.2,3.6e-4),(1076.3,2.7e-4),(1083.3,2.15e-4),(1092.7,2.0e-4),(1097.4,2.0e-4),(1099.8,1.22e-3),(1106.8,1.13e-3),(1113.8,4.4e-3),(1118.5,3.0e-3),(1125.6,1.05e-3),(1135.0,8.4e-4),(1139.7,1.47e-4),(1144.4,1.71e-4),(1151.4,1.71e-4),(1156.1,6.9e-5),(1158.5,5.9e-5),(1163.1,4.2e-4),(1167.8,9.0e-4),(1172.5,9.7e-4),(1173.5,4.2e-4)]

PANELS = [
    ("THC", [THC_E100, THC_E61, THC_E22]),
    ("NOx", [NOX_E100, NOX_E61, NOX_E22]),
    ("CO", [CO_E100, CO_E61, CO_E22]),
]
Y_TITLES = ["THC / (g s<sup>−1</sup>)", "NO<sub>x</sub> / (g s<sup>−1</sup>)", "CO / (g s<sup>−1</sup>)"]
Y_DECADES = [(-5, -1), (-7, -2), (-5, -1)]
Y_RANGES = [[-5, -1], [-7, -2], [-5, -0.921]]
X_TICKS = list(range(0, 1201, 100))

FONT = "Liberation Sans, Arial, sans-serif"
W, H = 992, 766
ML, MR, MT, MB = 117, 16, 21, 80
plot_h = H - MT - MB
plot_w = W - ML - MR
PANEL_PX = [(21, 228), (252, 459), (479, 686)]
TITLE_Y_PX = [107, 335, 562]


def tick_label(e):
    if e == -1:
        return "0.1"
    if e == -2:
        return "0.01"
    return "1E%d" % e


fig = go.Figure()
for i, (_, group) in enumerate(PANELS):
    suffix = "" if i == 0 else str(i + 1)
    for j, data in enumerate(group):
        fig.add_trace(go.Scatter(
            x=[p[0] for p in data], y=[p[1] for p in data],
            mode="lines", name=SERIES[j],
            line=dict(color=COLORS[j], width=1.3),
            showlegend=(i == 0),
            xaxis="x" + suffix, yaxis="y" + suffix,
        ))

layout = dict(
    width=W, height=H, margin=dict(l=ML, r=MR, t=MT, b=MB),
    paper_bgcolor="white", plot_bgcolor="white",
    font=dict(family=FONT, size=19, color="black"),
    legend=dict(orientation="h", x=(251 - ML) / plot_w, xanchor="left",
                y=(H - MB - 46) / plot_h, yanchor="middle",
                bgcolor="white", borderwidth=0, font=dict(size=23, family=FONT),
                itemwidth=53, tracegroupgap=0),
    annotations=[],
)

for i in range(3):
    suffix = "" if i == 0 else str(i + 1)
    top_px, bot_px = PANEL_PX[i]
    dom = [(H - MB - bot_px) / plot_h, (H - MB - top_px) / plot_h]
    lo, hi = Y_DECADES[i]
    major = [10.0 ** e for e in range(lo, hi + 1)]
    minor = [m * 10.0 ** e for e in range(lo, hi) for m in range(2, 10)]
    layout["yaxis" + suffix] = dict(
        type="log", range=Y_RANGES[i], domain=dom, anchor="x" + suffix,
        tickmode="array", tickvals=major, ticktext=[tick_label(e) for e in range(lo, hi + 1)],
        ticks="inside", ticklen=8, tickwidth=1, tickcolor="#333",
        showline=True, linecolor="#333", linewidth=1.2, mirror="ticks",
        showgrid=True, gridcolor="#8a8a8a", griddash="dash", gridwidth=1,
        minor=dict(tickmode="array", tickvals=minor, ticks="inside", ticklen=4,
                   tickcolor="#333", showgrid=True, gridcolor="#c4c4c4",
                   griddash="dot", gridwidth=1),
        tickfont=dict(size=19, family=FONT, color="black"),
        zeroline=False, ticklabelstandoff=4,
    )
    layout["xaxis" + suffix] = dict(
        range=[-10, 1200], domain=[0, 1], anchor="y" + suffix,
        tickmode="array", tickvals=X_TICKS, ticktext=[str(v) for v in X_TICKS],
        ticks="inside", ticklen=9, tickcolor="#333",
        minor=dict(dtick=50, tick0=0, ticks="inside", ticklen=5, tickcolor="#333", showgrid=False),
        showline=True, linecolor="#333", linewidth=1.2,
        mirror="ticks" if i == 0 else False,
        showgrid=False, zeroline=False,
        showticklabels=(i == 2), tickangle=-90,
        tickfont=dict(size=19, family=FONT, color="black"),
    )
    layout["annotations"].append(dict(
        text=Y_TITLES[i], xref="paper", yref="paper",
        x=(29 - ML) / plot_w, y=(H - MB - TITLE_Y_PX[i]) / plot_h,
        xanchor="center", yanchor="middle", textangle=-90, showarrow=False,
        font=dict(size=23, family=FONT, color="black"),
    ))

layout["annotations"].append(dict(
    text="time / s", xref="paper", yref="paper",
    x=(540 - ML) / plot_w, y=(H - MB - 752) / plot_h,
    xanchor="center", yanchor="middle", showarrow=False,
    font=dict(size=23, family=FONT, color="black"),
))

fig.update_layout(**layout)
fig.write_html("out.html")
